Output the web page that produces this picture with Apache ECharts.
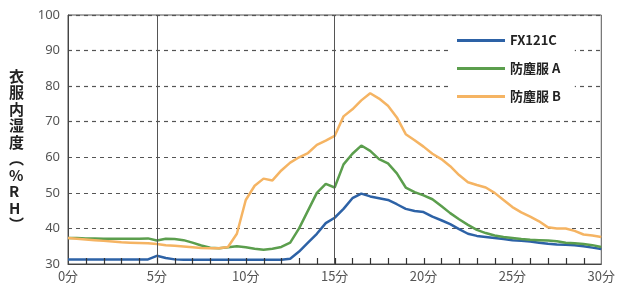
<!DOCTYPE html>
<html>
<head>
<meta charset="utf-8">
<script src="https://cdn.jsdelivr.net/npm/echarts@6/dist/echarts.min.js"></script>
<style>
  html, body { margin: 0; padding: 0; background: #fff; }
  #chart { width: 618px; height: 285px; }
</style>
</head>
<body>
<div id="chart"></div>
<script>
// 経過時間（分）
const minutes = [
  0, 0.5, 1, 1.5, 2, 2.5, 3, 3.5, 4, 4.5,
  5, 5.5, 6, 6.5, 7, 7.5, 8, 8.5, 9, 9.5,
  10, 10.5, 11, 11.5, 12, 12.5, 13, 13.5, 14, 14.5,
  15, 15.5, 16, 16.5, 17, 17.5, 18, 18.5, 19, 19.5,
  20, 20.5, 21, 21.5, 22, 22.5, 23, 23.5, 24, 24.5,
  25, 25.5, 26, 26.5, 27, 27.5, 28, 28.5, 29, 29.5, 30
]
const fx121c = [
  31.3, 31.3, 31.3, 31.3, 31.3, 31.3, 31.3, 31.3, 31.3, 31.3,
  32.3, 31.7, 31.3, 31.2, 31.2, 31.2, 31.2, 31.2, 31.2, 31.2,
  31.2, 31.2, 31.2, 31.2, 31.2, 31.5, 33.5, 36.0, 38.5, 41.5,
  43.0, 45.5, 48.5, 49.8, 49.0, 48.5, 48.0, 46.8, 45.5, 44.9,
  44.6, 43.3, 42.3, 41.2, 39.8, 38.5, 37.9, 37.6, 37.3, 37.0,
  36.7, 36.5, 36.3, 36.0, 35.7, 35.5, 35.4, 35.3, 35.0, 34.6, 34.2
]
const suitA = [
  37.3, 37.3, 37.2, 37.2, 37.1, 37.1, 37.1, 37.1, 37.1, 37.2,
  36.6, 37.1, 37.0, 36.7, 36.0, 35.2, 34.6, 34.4, 34.7, 35.0,
  34.7, 34.3, 34.0, 34.3, 34.8, 36.0, 40.0, 45.0, 50.0, 52.5,
  51.5, 58.0, 61.0, 63.3, 61.8, 59.5, 58.3, 55.5, 51.5, 50.2,
  49.3, 48.2, 46.3, 44.3, 42.6, 41.0, 39.6, 38.7, 38.0, 37.6,
  37.3, 37.0, 36.8, 36.7, 36.6, 36.4, 36.0, 35.8, 35.6, 35.3, 34.8
]
const suitB = [
  37.3, 37.1, 36.9, 36.7, 36.5, 36.3, 36.1, 36.0, 35.9, 35.8,
  35.6, 35.3, 35.1, 34.9, 34.7, 34.5, 34.4, 34.4, 34.8, 38.5,
  48.0, 52.0, 54.0, 53.5, 56.3, 58.5, 60.0, 61.2, 63.5, 64.7,
  66.0, 71.5, 73.5, 76.0, 78.0, 76.5, 74.5, 71.2, 66.5, 64.8,
  63.0, 61.0, 59.5, 57.5, 55.0, 53.0, 52.2, 51.5, 50.0, 48.0,
  46.0, 44.5, 43.3, 42.0, 40.3, 40.0, 40.0, 39.3, 38.3, 38.0, 37.6
]
// 1分ごとの目盛り
const minuteTicks = [
  1, 2, 3, 4, 5, 6, 7, 8, 9, 10, 11, 12, 13, 14, 15,
  16, 17, 18, 19, 20, 21, 22, 23, 24, 25, 26, 27, 28, 29
]
const seriesNames = ['FX121C', '防塵服 A', '防塵服 B']
const seriesColors = ['#2d62a6', '#5b9e4d', '#f5b463']
const markMinutes = [5, 15]

const chart = echarts.init(document.getElementById('chart'))

function pairs(values) {
  return minutes.map((m, i) => [m, values[i]])
}

const lineSeries = [fx121c, suitA, suitB].map((values, i) => ({
  name: seriesNames[i],
  type: 'line',
  data: pairs(values),
  showSymbol: false,
  symbol: 'none',
  lineStyle: { width: 2.5, color: seriesColors[i] },
  itemStyle: { color: seriesColors[i] },
  z: 3
}))

// 5分・15分の縦線
lineSeries[0].markLine = {
  silent: true,
  symbol: 'none',
  label: { show: false },
  lineStyle: { type: 'solid', color: '#555', width: 1 },
  data: markMinutes.map(m => ({ xAxis: m }))
}

chart.setOption({
  backgroundColor: '#fff',
  animation: false,
  grid: {
    left: 68,
    right: 14,
    top: 15,
    bottom: 21,
    show: true,
    borderColor: '#555',
    borderWidth: 1
  },
  legend: {
    data: seriesNames,
    orient: 'vertical',
    left: 450,
    top: 20,
    padding: [14, 14, 10, 7],
    itemGap: 15,
    itemWidth: 48,
    itemHeight: 3,
    icon: 'rect',
    backgroundColor: '#fff',
    textStyle: {
      fontFamily: 'Noto Sans CJK JP',
      fontWeight: 'bold',
      fontSize: 13,
      color: '#222'
    }
  },
  xAxis: {
    type: 'value',
    min: 0,
    max: 30,
    interval: 5,
    axisLine: { show: true, lineStyle: { color: '#444', width: 1 } },
    axisTick: { show: false },
    splitLine: { show: false },
    axisLabel: {
      margin: 6,
      fontSize: 13,
      color: '#555',
      fontFamily: 'Noto Sans CJK JP',
      formatter: '{value}分'
    }
  },
  yAxis: {
    type: 'value',
    min: 30,
    max: 100,
    interval: 10,
    axisLine: { show: true, lineStyle: { color: '#444', width: 1 } },
    axisTick: { show: false },
    splitLine: {
      show: true,
      lineStyle: { type: [4, 4], color: '#555', width: 1.2 }
    },
    axisLabel: {
      margin: 8,
      fontSize: 13,
      color: '#555',
      fontFamily: 'Noto Sans'
    }
  },
  series: lineSeries
})

// 軸名（縦書き）と下軸の内向き目盛り
const yTitle = {
  type: 'text',
  left: 9,
  top: 68,
  z: 10,
  style: {
    text: '衣\n服\n内\n湿\n度\n︵\n%\nR\nH\n︶',
    fontFamily: 'Noto Sans CJK JP',
    fontWeight: 'bold',
    fontSize: 15,
    lineHeight: 16.5,
    fill: '#222',
    align: 'center'
  }
}
const tickMarks = minuteTicks.map(m => {
  const p = chart.convertToPixel({ gridIndex: 0 }, [m, 30])
  const x = Math.round(p[0]) + 0.5
  return {
    type: 'line',
    z: 10,
    silent: true,
    shape: { x1: x, y1: p[1], x2: x, y2: p[1] - 6 },
    style: { stroke: '#333', lineWidth: 1.2 }
  }
})

chart.setOption({ graphic: [yTitle].concat(tickMarks) })
</script>
</body>
</html>
